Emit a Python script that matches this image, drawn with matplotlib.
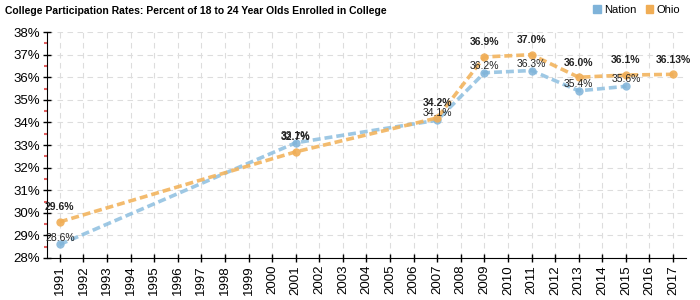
import matplotlib
matplotlib.use('Agg')
import matplotlib.pyplot as plt
from matplotlib.patches import Patch

plt.rcParams['font.family'] = ['Liberation Sans', 'DejaVu Sans']

# dados
anos = list(range(1991, 2018))
anos_nacao = [1991, 2001, 2007, 2009, 2011, 2013, 2015]
nacao = [28.6, 33.1, 34.1, 36.2, 36.3, 35.4, 35.6]
rotulos_nacao = ['28.6%', '33.1%', '34.1%', '36.2%', '36.3%', '35.4%', '35.6%']
anos_ohio = [1991, 2001, 2007, 2009, 2011, 2013, 2015, 2017]
ohio = [29.6, 32.7, 34.2, 36.9, 37.0, 36.0, 36.1, 36.13]
rotulos_ohio = ['29.6%', '32.7%', '34.2%', '36.9%', '37.0%', '36.0%', '36.1%', '36.13%']
ticks_y = list(range(28, 39))

cor_nacao = '#8dbfe0'
cor_ohio = '#f2b45e'

fig = plt.figure(figsize=(7, 3), dpi=100)
ax = fig.add_axes([0.067, 0.14, 0.913, 0.753])

ax.plot(anos_nacao, nacao, linestyle=(0, (2.2, 1.1)), linewidth=2.6, color=cor_nacao,
        alpha=0.85, marker='o', markersize=6, markerfacecolor='#7fb3d9', markeredgewidth=0)
ax.plot(anos_ohio, ohio, linestyle=(0, (2.2, 1.1)), linewidth=2.6, color=cor_ohio,
        alpha=0.9, marker='o', markersize=6, markerfacecolor='#f0ad55', markeredgewidth=0)

for x, y, t in zip(anos_nacao, nacao, rotulos_nacao):
    ax.annotate(t, (x, y), xytext=(0, 5), textcoords='offset points', ha='center',
                va='center', fontsize=7.5, color='#222222')
for x, y, t in zip(anos_ohio, ohio, rotulos_ohio):
    ax.annotate(t, (x, y), xytext=(0, 10.5), textcoords='offset points', ha='center',
                va='center', fontsize=7.5, fontweight='bold', color='#222222')

ax.set_xlim(1990.45, 2017.55)
ax.set_ylim(28, 38)
ax.set_xticks(anos)
ax.set_xticklabels([str(a) for a in anos], rotation=90, fontsize=9.5)
ax.set_yticks(ticks_y)
ax.set_yticklabels([f'{v}%' for v in ticks_y], fontsize=9.5)
ax.set_yticks([v + 0.5 for v in ticks_y[:-1]], minor=True)
ax.tick_params(axis='y', which='minor', direction='out', length=2.5, width=1.5, color='#e06060', left=True)
ax.tick_params(axis='both', which='major', direction='inout', length=6, width=1, pad=2)

ax.grid(True, which='major', linestyle=(0, (5, 4)), color='#dddddd', linewidth=0.8)
for lado in ['top', 'right']:
    ax.spines[lado].set_visible(False)

fig.text(0.007, 0.965, 'College Participation Rates: Percent of 18 to 24 Year Olds Enrolled in College',
         fontsize=7.5, fontweight='bold', va='center')
ax.legend(handles=[Patch(color='#7fb3d9', label='Nation'), Patch(color='#f0ad55', label='Ohio')],
          loc='center right', bbox_to_anchor=(1.0, 1.1), ncol=2, frameon=False, fontsize=8,
          handlelength=0.7, handleheight=0.7, handletextpad=0.3, columnspacing=0.8, borderpad=0)

fig.savefig('out.png', dpi=100)
